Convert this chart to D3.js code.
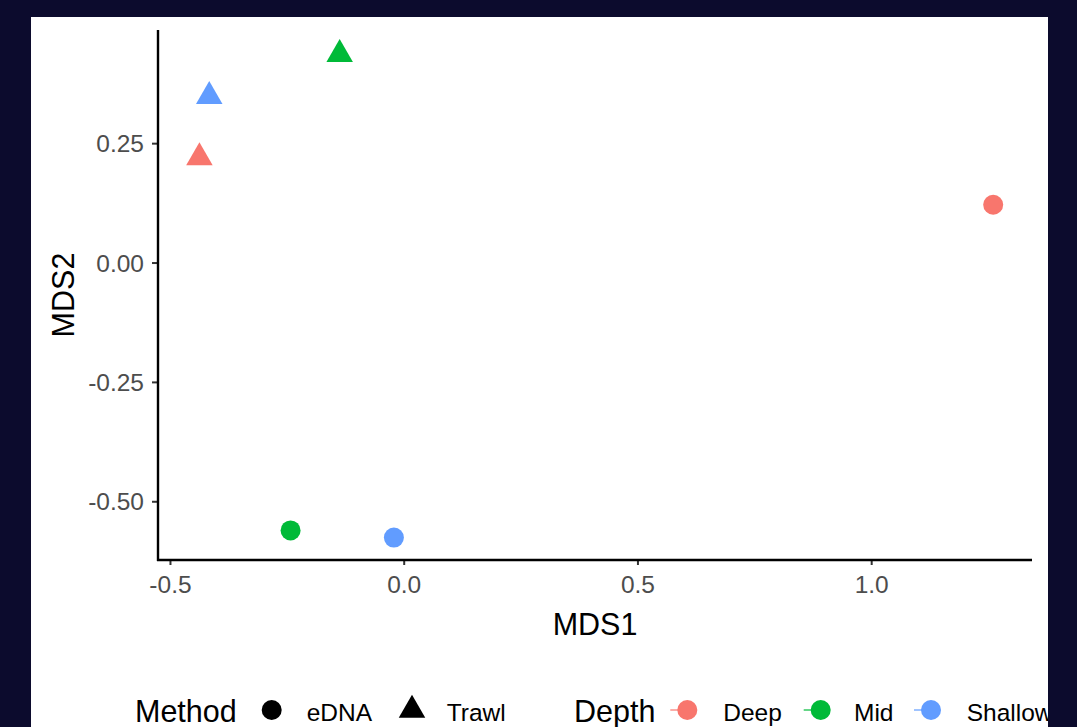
<!DOCTYPE html>
<html>
<head>
<meta charset="utf-8">
<script src="https://d3js.org/d3.v7.min.js"></script>
<title>NMDS</title>
<style>
  body { margin: 0; background: #0c0b2d; }
  text { font-family: "Liberation Sans", Arial, sans-serif; }
</style>
</head>
<body>
<script>

// values
var method = ["eDNA", "eDNA", "eDNA", "Trawl", "Trawl", "Trawl"];
var depth  = ["Deep", "Mid", "Shallow", "Deep", "Mid", "Shallow"];
var mds1   = [1.261, -0.242, -0.021, -0.437, -0.137, -0.416];
var mds2   = [0.121, -0.561, -0.576, 0.220, 0.436, 0.348];

var depthLevels = ["Deep", "Mid", "Shallow"];
var depthColours = ["#F8766D", "#00BA38", "#619CFF"];
var methodLevels = ["eDNA", "Trawl"];
var xTicks = [-0.5, 0.0, 0.5, 1.0];
var yTicks = [-0.50, -0.25, 0.00, 0.25];

var width = 1077,
    height = 727;

var svg = d3.select( "body" )
  .append( "svg" )
  .attr( "width", width )
  .attr( "height", height )
  .style( "display", "block" );

svg.append( "rect" )
  .attr( "width", width ).attr( "height", height )
  .attr( "fill", "#0c0b2d" );

svg.append( "rect" )
  .attr( "x", 31 ).attr( "y", 17 )
  .attr( "width", 1048 - 31 ).attr( "height", height - 17 )
  .attr( "fill", "#ffffff" );

var x = d3.scaleLinear()
    .domain([-0.5256, 1.344])
    .range([158, 1032]);

var y = d3.scaleLinear()
    .domain([-0.623, 0.487])
    .range([560, 30]);

var colour = d3.scaleOrdinal()
    .domain( depthLevels )
    .range( depthColours );

// R style triangle, r = distance centre -> apex
function triangle(r) {
  var hw = r * Math.sqrt(3) / 2;
  return "M0," + (-r) + "L" + hw + "," + (r / 2) + "L" + (-hw) + "," + (r / 2) + "Z";
}

// R prints a plain hyphen, not the unicode minus
function fmt(n) {
  return function(v) { return v.toFixed(n); };
}

// axes
var xAxis = svg.append( "g" )
  .attr( "transform", "translate(0,560)" )
  .call( d3.axisBottom(x).tickValues(xTicks).tickFormat(fmt(1)).tickSize(5).tickPadding(5) );

var yAxis = svg.append( "g" )
  .attr( "transform", "translate(158,0)" )
  .call( d3.axisLeft(y).tickValues(yTicks).tickFormat(fmt(2)).tickSize(6).tickPadding(8) );

[xAxis, yAxis].forEach(function(a) {
  a.select( ".domain" ).remove();
  a.selectAll( ".tick line" ).attr( "stroke", "#333333" ).attr( "stroke-width", 2 );
  a.selectAll( ".tick text" )
    .attr( "fill", "#4d4d4d" )
    .style( "font-size", "24.5px" )
    .style( "font-family", "'Liberation Sans', Arial, sans-serif" );
});
xAxis.selectAll( ".tick text" ).attr( "dy", "0.71em" ).attr( "y", 16 );
yAxis.selectAll( ".tick text" ).attr( "dy", "0.35em" );

svg.append( "line" )
  .attr( "x1", 158 ).attr( "x2", 158 ).attr( "y1", 30 ).attr( "y2", 561 )
  .attr( "stroke", "#000" ).attr( "stroke-width", 2.4 );
svg.append( "line" )
  .attr( "x1", 157 ).attr( "x2", 1032 ).attr( "y1", 560 ).attr( "y2", 560 )
  .attr( "stroke", "#000" ).attr( "stroke-width", 2.4 );

svg.append( "text" )
  .attr( "x", 595 ).attr( "y", 635 )
  .attr( "text-anchor", "middle" )
  .style( "font-size", "30.5px" )
  .text( "MDS1" );

svg.append( "text" )
  .attr( "transform", "translate(74,295) rotate(-90)" )
  .attr( "text-anchor", "middle" )
  .style( "font-size", "30.5px" )
  .text( "MDS2" );

// points
var pts = d3.range(mds1.length).map(function(i) {
  return { method: method[i], depth: depth[i], mds1: mds1[i], mds2: mds2[i] };
});

svg.append( "g" )
  .selectAll( "path" )
  .data( pts )
  .enter()
  .append( "path" )
  .attr( "transform", function(d) { return "translate(" + x(d.mds1) + "," + y(d.mds2) + ")"; } )
  .attr( "d", function(d) {
    return d.method == "eDNA" ? d3.symbol().type(d3.symbolCircle).size(Math.PI * 10 * 10)() : triangle(15.3);
  })
  .attr( "fill", function(d) { return colour(d.depth); } );

// legend
var leg = svg.append( "g" );
var ly = 710;

leg.append( "text" ).attr( "x", 135 ).attr( "y", 722 ).style( "font-size", "30.5px" ).text( "Method" );

var methodX = [271.7, 412];
var methodTextX = [306.7, 446.7];
methodLevels.forEach(function(m, i) {
  leg.append( "path" )
    .attr( "transform", "translate(" + methodX[i] + "," + ly + ")" )
    .attr( "d", m == "eDNA" ? d3.symbol().type(d3.symbolCircle).size(Math.PI * 100)() : triangle(15.3) )
    .attr( "fill", "#000" );
  leg.append( "text" ).attr( "x", methodTextX[i] ).attr( "y", 721 ).style( "font-size", "24.5px" ).text( m );
});

leg.append( "text" ).attr( "x", 574 ).attr( "y", 722 ).style( "font-size", "30.5px" ).text( "Depth" );

var depthX = [687.3, 820.7, 931];
var depthTextX = [723.3, 854, 966.7];
depthLevels.forEach(function(d, i) {
  leg.append( "line" )
    .attr( "x1", depthX[i] - 17 ).attr( "x2", depthX[i] - 6 )
    .attr( "y1", ly ).attr( "y2", ly )
    .attr( "stroke", colour(d) ).attr( "stroke-width", 1.2 );
  leg.append( "circle" )
    .attr( "cx", depthX[i] ).attr( "cy", ly ).attr( "r", 10 )
    .attr( "fill", colour(d) );
  leg.append( "text" ).attr( "x", depthTextX[i] ).attr( "y", 721 ).style( "font-size", "24.5px" ).text( d );
});

// the white panel is cut at the right edge
svg.append( "rect" )
  .attr( "x", 1048 ).attr( "y", 0 )
  .attr( "width", width - 1048 ).attr( "height", height )
  .attr( "fill", "#0c0b2d" );

</script>
</body>
</html>
